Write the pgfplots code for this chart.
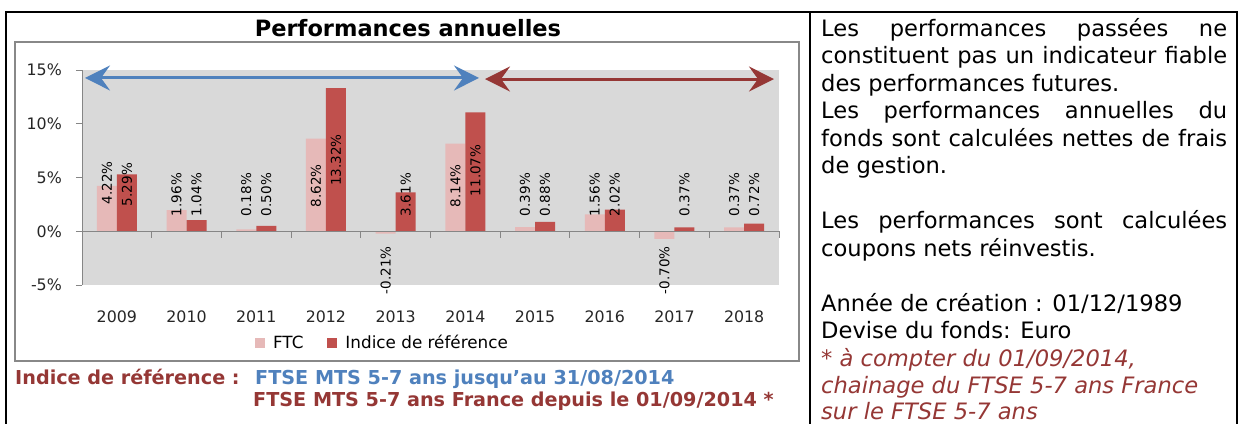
\documentclass[border=0pt]{standalone}
\usepackage{pgfplots}
\pgfplotsset{compat=1.18}
\usepackage{pgfplotstable}
\usepackage{fontspec}
\setmainfont{DejaVu Sans}
\usetikzlibrary{arrows.meta}
\definecolor{ftc}{HTML}{E6B9B8}
\definecolor{idx}{HTML}{C0504D}
\definecolor{plotbg}{HTML}{D9D9D9}
\definecolor{axgray}{HTML}{868686}
\definecolor{framegray}{HTML}{888888}
\definecolor{arrblue}{HTML}{4F81BD}
\definecolor{darkred}{HTML}{953735}

\pgfplotstableread{
x ftc idx
0 4.22 5.29
1 1.96 1.04
2 0.18 0.50
3 8.62 13.32
4 -0.21 3.61
5 8.14 11.07
6 0.39 0.88
7 1.56 2.02
8 -0.70 0.37
9 0.37 0.72
}\perf

% label positions (value axis) and texts
\pgfplotstableread{
x ly lab
0 2.5 4.22
1 1.4 1.96
2 1.4 0.18
3 2.2 8.62
5 2.2 8.14
6 1.4 0.39
7 1.4 1.56
9 1.4 0.37
}\ftcpos
\pgfplotstableread{
x ly lab
4 -1.4 -0.21
8 -1.4 -0.70
}\ftcneg
\pgfplotstableread{
x ly lab
0 2.33 5.29
1 1.4 1.04
2 1.4 0.50
3 4.2 13.32
4 1.4 3.61
5 3.25 11.07
6 1.4 0.88
7 1.4 2.02
8 1.4 0.37
9 1.4 0.72
}\idxpos

\pgfplotsset{
  lbl/.style={draw=none, forget plot, point meta=explicit symbolic,
    nodes near coords={\pgfplotspointmeta\%},
    nodes near coords style={rotate=90, anchor=#1, inner sep=0pt,
      font=\fontsize{13.5}{15}\selectfont, text=black}},
}

\begin{document}
\begin{tikzpicture}
% table frame
\draw[black, line width=2.5pt] (6pt,-440pt) -- (6pt,-12pt) -- (1237pt,-12pt) -- (1237pt,-440pt);
\draw[black, line width=2.5pt] (810pt,-12pt) -- (810pt,-440pt);
% chart frame
\draw[framegray, line width=2.5pt] (15pt,-42pt) rectangle (799pt,-361pt);
% title
\node[font=\bfseries\fontsize{22.5}{27}\selectfont, anchor=base, inner sep=0pt] at (408pt,-36pt) {Performances annuelles};

\begin{axis}[
  at={(82pt,-285pt)}, anchor=south west,
  width=697pt, height=215pt, scale only axis,
  xmin=-0.5, xmax=9.5, ymin=-5, ymax=15,
  enlargelimits=false, clip=false,
  axis background/.style={fill=plotbg},
  axis lines*=left,
  x axis line style={draw=none},
  y axis line style={axgray, line width=1pt},
  xtick={0,...,9},
  xticklabels={2009,2010,2011,2012,2013,2014,2015,2016,2017,2018},
  xtick style={draw=none},
  ytick={-5,0,5,10,15},
  yticklabels={-5\%,0\%,5\%,10\%,15\%},
  ytick style={axgray, line width=1pt},
  tick align=outside, major tick length=6pt,
  ticklabel style={font=\fontsize{15.8}{18}\selectfont, text=black!85},
  xticklabel style={anchor=north, inner sep=0pt, yshift=-20pt},
  yticklabel style={anchor=east, inner sep=0pt, xshift=-14pt},
  legend style={at={(0.4297,-0.2698)}, anchor=center, draw=none, fill=none,
    font=\fontsize{16.8}{19}\selectfont, inner sep=0pt,
    nodes={inner sep=0pt},
    /tikz/every even column/.append style={column sep=24pt}},
  legend columns=2, legend cell align=left,
]
\addplot[ybar, bar width=20pt, bar shift=-10pt, fill=ftc, draw=none,
  legend image code/.code={\fill[ftc] (0pt,-5pt) rectangle (10pt,5pt); \path (18pt,0pt);}]
  table[x=x, y=ftc]{\perf};
\addlegendentry{FTC}
\addplot[ybar, bar width=20pt, bar shift=10pt, fill=idx, draw=none,
  legend image code/.code={\fill[idx] (0pt,-5pt) rectangle (10pt,5pt); \path (18pt,0pt);}]
  table[x=x, y=idx]{\perf};
\addlegendentry{Indice de référence}

% zero line and category ticks
\addplot[axgray, line width=1pt, forget plot] coordinates {(-0.5,0) (9.5,0)};
\addplot[axgray, line width=1pt, ycomb, forget plot] coordinates {
(0.5,-0.6) (1.5,-0.6) (2.5,-0.6) (3.5,-0.6) (4.5,-0.6) (5.5,-0.6) (6.5,-0.6) (7.5,-0.6) (8.5,-0.6) (9.5,-0.6)};

% data labels
\addplot[lbl=west] table[x expr=\thisrow{x}-0.1435, y=ly, meta=lab]{\ftcpos};
\addplot[lbl=east] table[x expr=\thisrow{x}-0.1435, y=ly, meta=lab]{\ftcneg};
\addplot[lbl=west] table[x expr=\thisrow{x}+0.1435, y=ly, meta=lab]{\idxpos};

% period arrows
\draw[arrblue, line width=3pt, {Stealth[length=25pt,width=25pt,inset=9pt]}-{Stealth[length=25pt,width=25pt,inset=9pt]}]
  (axis cs:-0.457,14.26) -- (axis cs:5.196,14.26);
\draw[darkred, line width=3pt, {Stealth[length=25pt,width=25pt,inset=9pt]}-{Stealth[length=25pt,width=25pt,inset=9pt]}]
  (axis cs:5.282,14.16) -- (axis cs:9.428,14.16);
\end{axis}

% bottom-left notes
\node[anchor=base west, inner sep=0pt, font=\bfseries\fontsize{19.2}{22}\selectfont, text=darkred] at (15pt,-384pt) {Indice de référence :};
\node[anchor=base west, inner sep=0pt, font=\bfseries\fontsize{19.2}{22}\selectfont, text=arrblue] at (255pt,-384pt) {FTSE MTS 5-7 ans jusqu’au 31/08/2014};
\node[anchor=base west, inner sep=0pt, font=\bfseries\fontsize{19.2}{22}\selectfont, text=darkred] at (253pt,-406pt) {FTSE MTS 5-7 ans France depuis le 01/09/2014 *};

% right column
\begin{scope}[every node/.style={anchor=base west, inner sep=0pt, font=\fontsize{22.6}{27.5}\selectfont}]
\node at (821pt,-36pt) {\makebox[406pt][s]{Les performances passées ne}};
\node at (821pt,-63.5pt) {\makebox[406pt][s]{constituent pas un indicateur fiable}};
\node at (821pt,-91pt) {des performances futures.};
\node at (821pt,-118.5pt) {\makebox[406pt][s]{Les performances annuelles du}};
\node at (821pt,-146pt) {\makebox[406pt][s]{fonds sont calculées nettes de frais}};
\node at (821pt,-173.5pt) {de gestion.};
\node at (821pt,-228.5pt) {\makebox[406pt][s]{Les performances sont calculées}};
\node at (821pt,-256pt) {coupons nets réinvestis.};
\node at (821pt,-311pt) {Année de création : 01/12/1989};
\node at (821pt,-338.5pt) {Devise du fonds: Euro};
\node[text=darkred, font=\itshape\fontsize{22.6}{27.5}\selectfont] at (821pt,-366pt) {* à compter du 01/09/2014,};
\node[text=darkred, font=\itshape\fontsize{22.6}{27.5}\selectfont] at (821pt,-393.5pt) {chainage du FTSE 5-7 ans France};
\node[text=darkred, font=\itshape\fontsize{22.6}{27.5}\selectfont] at (821pt,-419pt) {sur le FTSE 5-7 ans};
\end{scope}

\pgfresetboundingbox
\path[use as bounding box] (0pt,0pt) rectangle (1242pt,-423pt);
\end{tikzpicture}
\end{document}
